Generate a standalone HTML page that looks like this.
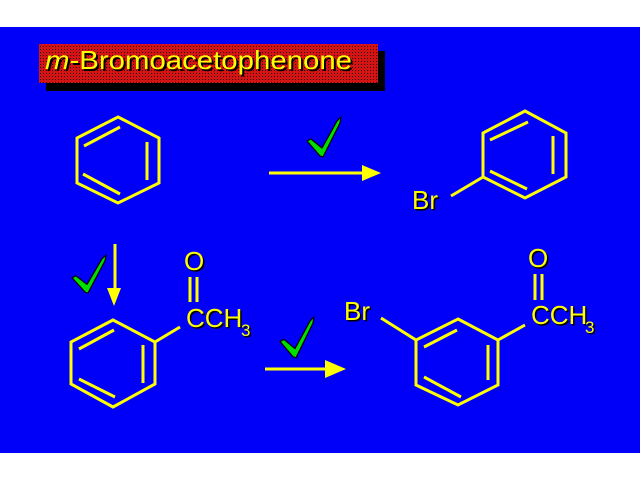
<!DOCTYPE html>
<html><head><meta charset="utf-8"><style>
html,body{margin:0;padding:0;background:#fff;}
svg{display:block;}
text{font-family:"Liberation Sans",Arial,sans-serif;}
</style></head><body>
<svg width="640" height="480" viewBox="0 0 640 480" xmlns="http://www.w3.org/2000/svg">
<defs>
<pattern id="dots" width="3" height="3" patternUnits="userSpaceOnUse">
<rect width="3" height="3" fill="#d41414"/><rect x="1" y="1" width="1" height="1" fill="#300"/>
</pattern>
<g id="chk"><polygon points="0,24 4,22 15,31 30,4 34,0 33,6 16,40 13,39" fill="#00e000" stroke="#000" stroke-width="1.2" stroke-linejoin="round"/></g>
</defs>
<rect x="0" y="27" width="640" height="426" fill="#0000f8"/>
<rect x="46" y="51" width="339" height="40" fill="#000"/>
<rect x="39" y="44" width="339" height="39" fill="url(#dots)"/>
<g font-size="26" fill="#000">
<text x="47" y="71" textLength="307" lengthAdjust="spacingAndGlyphs"><tspan font-style="italic">m</tspan>-Bromoacetophenone</text>
</g>
<g font-size="26" fill="#ffff00">
<text x="45" y="69" textLength="307" lengthAdjust="spacingAndGlyphs"><tspan font-style="italic">m</tspan>-Bromoacetophenone</text>
</g>

<g stroke="#ffff00" stroke-width="3" fill="none" stroke-linejoin="miter">
<!-- benzene 1 -->
<polygon points="118,117 159,138 159,183 118,203 77,183 77,138"/>
<line x1="84" y1="146" x2="120" y2="127"/>
<line x1="147" y1="142" x2="147" y2="180"/>
<line x1="83" y1="174" x2="120" y2="194"/>
<!-- bromobenzene -->
<polygon points="525,111 566,133 566,177 525,198 483,177 483,133"/>
<line x1="490" y1="140" x2="528" y2="122"/>
<line x1="553" y1="136" x2="553" y2="174"/>
<line x1="490" y1="171" x2="527" y2="189"/>
<line x1="483" y1="177" x2="451" y2="196"/>
<!-- acetophenone -->
<polygon points="113,320 155,342 155,384 113,407 71,384 71,342"/>
<line x1="79" y1="349" x2="114" y2="330"/>
<line x1="143" y1="345" x2="143" y2="383"/>
<line x1="79" y1="379" x2="115" y2="397"/>
<line x1="155" y1="342" x2="180" y2="327"/>
<line x1="190" y1="277" x2="190" y2="302"/>
<line x1="197" y1="277" x2="197" y2="302"/>
<!-- m-bromoacetophenone -->
<polygon points="458,319 498,340 498,385 458,405 416,385 416,340"/>
<line x1="424" y1="347" x2="457" y2="330"/>
<line x1="488" y1="345" x2="488" y2="380"/>
<line x1="424" y1="377" x2="461" y2="397"/>
<line x1="416" y1="340" x2="381" y2="318"/>
<line x1="498" y1="340" x2="525" y2="325"/>
<line x1="535" y1="274" x2="535" y2="300"/>
<line x1="542" y1="274" x2="542" y2="300"/>
<!-- arrows -->
<line x1="269" y1="173" x2="364" y2="173"/>
<line x1="115" y1="244" x2="115" y2="290"/>
<line x1="265" y1="369" x2="327" y2="369"/>
</g>
<g fill="#ffff00">
<polygon points="362,165 381,173 362,181"/>
<polygon points="107,288 121,288 114,306"/>
<polygon points="325,360 346,369 325,378"/>
</g>

<g font-size="26">
<g fill="#000" transform="translate(1.5,1.5)">
<text x="412" y="209">Br</text>
<text x="184" y="270">O</text>
<text x="186" y="327">CCH</text>
<text x="241" y="336" font-size="17">3</text>
<text x="344" y="320">Br</text>
<text x="528" y="267">O</text>
<text x="531" y="324">CCH</text>
<text x="585" y="333" font-size="17">3</text>
</g>
<g fill="#ffff00">
<text x="412" y="209">Br</text>
<text x="184" y="270">O</text>
<text x="186" y="327">CCH</text>
<text x="241" y="336" font-size="17">3</text>
<text x="344" y="320">Br</text>
<text x="528" y="267">O</text>
<text x="531" y="324">CCH</text>
<text x="585" y="333" font-size="17">3</text>
</g>
</g>

<use href="#chk" transform="translate(307,117)"/>
<use href="#chk" transform="translate(72,255) scale(1,0.95)"/>
<use href="#chk" transform="translate(280,317) scale(1,1.02)"/>
</svg>
</body></html>
